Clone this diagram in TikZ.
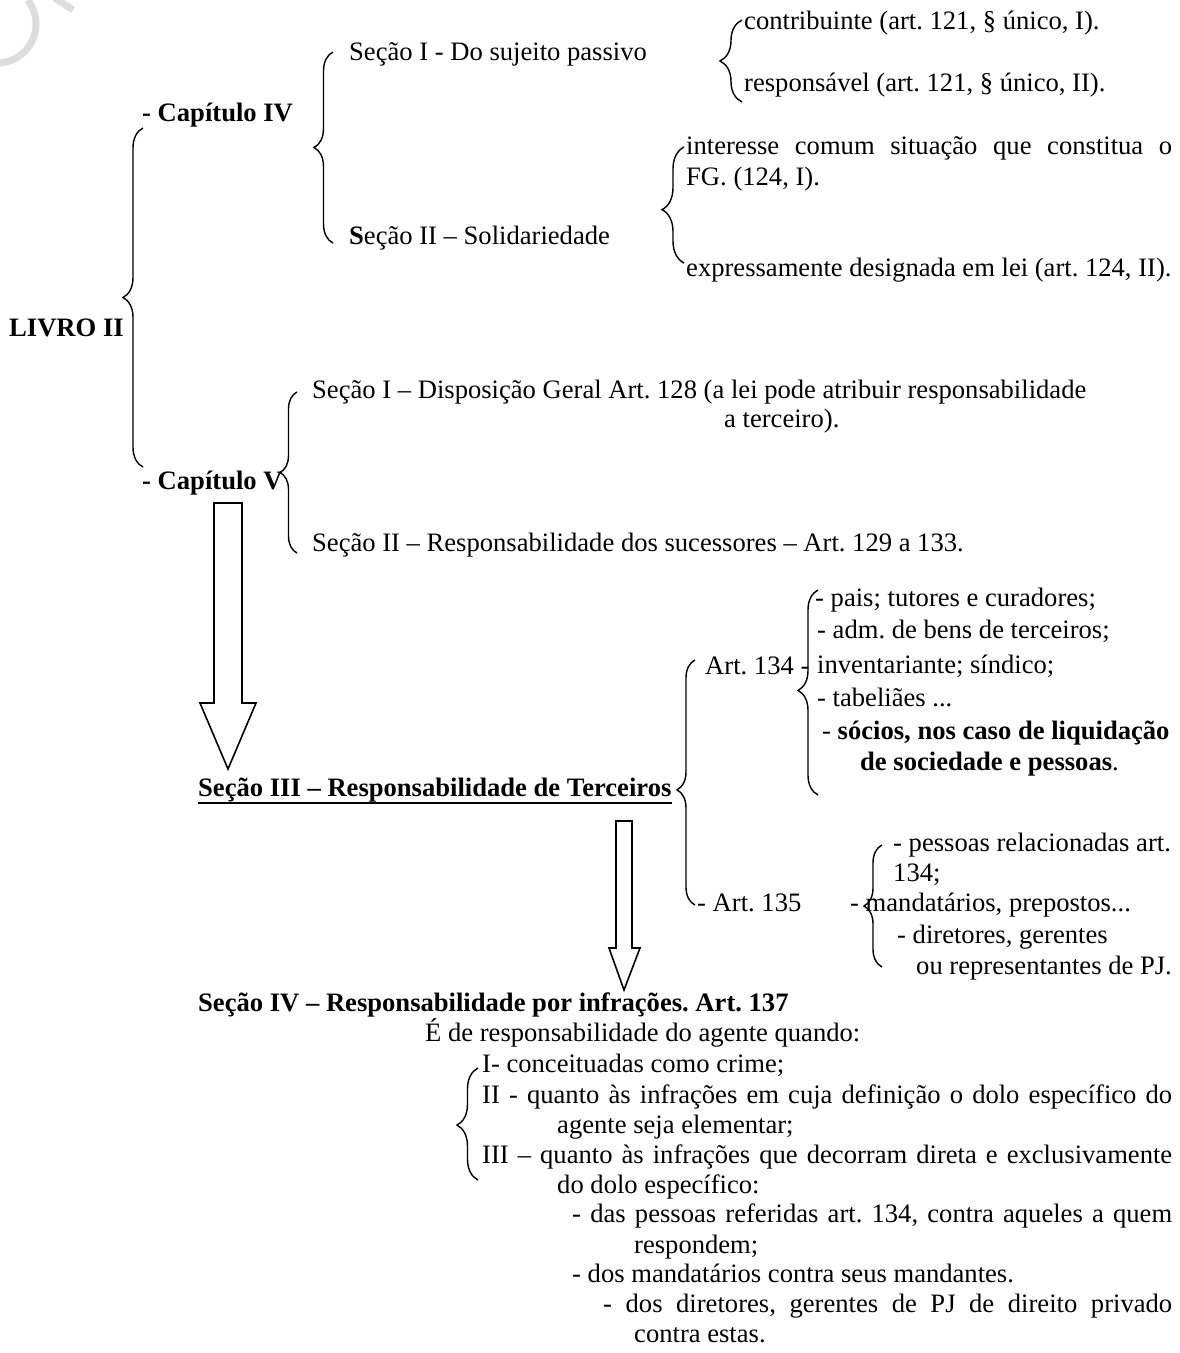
\documentclass[tikz,border=0pt]{standalone}
\usepackage{fontspec}
\setmainfont{Liberation Serif}
\usetikzlibrary{decorations.pathreplacing}
\definecolor{WmGray}{HTML}{DDDDDD}
\frenchspacing

\begin{document}
\begin{tikzpicture}[x=1pt,y=-1pt,
  every node/.style={font=\fontsize{26.6}{30}\selectfont,anchor=west,inner sep=0pt,text height=18pt,text depth=6pt},
  strong/.style={font=\fontsize{26.6}{30}\selectfont\bfseries},
  brc/.style={decorate,decoration={brace,amplitude=20pt,aspect=#1},line width=1.4pt},
  brc/.default=0.5,
  blk/.style={draw,line width=1.6pt,line join=miter,fill=white}]
  \useasboundingbox (0,0) rectangle (1180,1353);
  \draw[WmGray,line width=7pt] (-0.3,62.9) arc[start angle=86,end angle=-38,radius=39];
  \draw[WmGray,line width=7pt] (55,-2) -- (73,10);

  \node[strong] (livro) at (9,330) {LIVRO II};
  \node[strong] (cap4) at (142,115) {- Capítulo IV};
  \node[strong] (cap5) at (142,483) {- Capítulo V};
  \node (sec1) at (349,54) {Seção I - Do sujeito passivo};
  \node (sec2) at (349,238) {\textbf{S}eção II – Solidariedade};
  \node (contrib) at (744,23) {contribuinte (art. 121, § único, I).};
  \node (resp) at (744,85) {responsável (art. 121, § único, II).};
  \node (interesse) at (686,148) {\makebox[486pt][s]{interesse comum situação que constitua o}};
  \node (fg) at (686,179) {FG. (124, I).};
  \node (expr) at (686,270) {expressamente designada em lei (art. 124, II).};
  \node (disp) at (312,392) {Seção I – Disposição Geral Art. 128 (a lei pode atribuir responsabilidade};
  \node (terc) at (724,421) {a terceiro).};
  \node (suc) at (312,545) {Seção II – Responsabilidade dos sucessores – Art. 129 a 133.};

  \node[strong] (sec3) at (198,790) {Seção III – Responsabilidade de Terceiros};
  \draw[line width=2.4pt] ([yshift=-1pt]sec3.south west) -- ([yshift=-1pt]sec3.south east);
  \node (a134) at (705,668) {Art. 134 -};
  \node (pais) at (815,600) {- pais; tutores e curadores;};
  \node (adm) at (817,632) {- adm. de bens de terceiros;};
  \node (inv) at (817,667) {inventariante; síndico;};
  \node (tab) at (817,700) {- tabeliães ...};
  \node (soc) at (822,733) {- \textbf{sócios, nos caso de liquidação}};
  \node (socb) at (860,764) {\textbf{de sociedade e pessoas}.};
  \node (pess) at (893,845) {- pessoas relacionadas art.};
  \node (n134) at (893,875) {134;};
  \node (a135) at (697,905) {- Art. 135};
  \node (mand) at (850,905) {- mandatários, prepostos...};
  \node (dir) at (897,937) {- diretores, gerentes};
  \node (repr) at (916,968) {ou representantes de PJ.};

  \node[strong] (sec4) at (198,1005) {Seção IV – Responsabilidade por infrações. Art. 137};
  \node (agente) at (425,1035) {É de responsabilidade do agente quando:};
  \node (crime) at (482,1066) {I- conceituadas como crime;};
  \node (dolo) at (482,1097) {\makebox[690pt][s]{II - quanto às infrações em cuja definição o dolo específico do}};
  \node (elem) at (557,1127) {agente seja elementar;};
  \node (excl) at (482,1157) {\makebox[690pt][s]{III – quanto às infrações que decorram direta e exclusivamente}};
  \node (espec) at (557,1187) {do dolo específico:};
  \node (refer) at (572,1216) {\makebox[600pt][s]{- das pessoas referidas art. 134, contra aqueles a quem}};
  \node (resp2) at (634,1247) {respondem;};
  \node (mandt) at (572,1276) {- dos mandatários contra seus mandantes.};
  \node (priv) at (603,1306) {\makebox[569pt][s]{- dos diretores, gerentes de PJ de direito privado}};
  \node (estas) at (634,1336) {contra estas.};

  \coordinate (livroT) at (143,128);  \coordinate (livroB) at (143,467);
  \coordinate (cap4T) at (333,52);    \coordinate (cap4B) at (333,243);
  \coordinate (sec1T) at (742,20);    \coordinate (sec1B) at (742,102);
  \coordinate (sec2T) at (684,147);   \coordinate (sec2B) at (684,263);
  \coordinate (cap5T) at (297,392);   \coordinate (cap5B) at (297,553);
  \coordinate (sec3T) at (695,660);   \coordinate (sec3B) at (695,905);
  \coordinate (a134T) at (818,590);   \coordinate (a134B) at (818,795);
  \coordinate (a135T) at (882,845);   \coordinate (a135B) at (882,967);
  \coordinate (sec4T) at (478,1068);  \coordinate (sec4B) at (478,1180);
  \draw[brc] (livroB) -- (livroT);
  \draw[brc,decoration={amplitude=19pt}] (cap4B) -- (cap4T);
  \draw[brc,decoration={amplitude=22pt}] (sec1B) -- (sec1T);
  \draw[brc=0.46,decoration={amplitude=22pt}] (sec2B) -- (sec2T);
  \draw[brc,decoration={amplitude=17pt}] (cap5B) -- (cap5T);
  \draw[brc=0.47,decoration={amplitude=18pt}] (sec3B) -- (sec3T);
  \draw[brc=0.51] (a134B) -- (a134T);
  \draw[brc,decoration={amplitude=18pt}] (a135B) -- (a135T);
  \draw[brc=0.49,decoration={amplitude=21pt}] (sec4B) -- (sec4T);

  \draw[blk] (214,503) -- (242,503) -- (242,703) -- (256,703) -- (228,769) -- (200,703) -- (214,703) -- cycle;
  \draw[blk] (616,821) -- (632,821) -- (632,948) -- (640,948) -- (624,990) -- (609,948) -- (616,948) -- cycle;
\end{tikzpicture}
\end{document}
